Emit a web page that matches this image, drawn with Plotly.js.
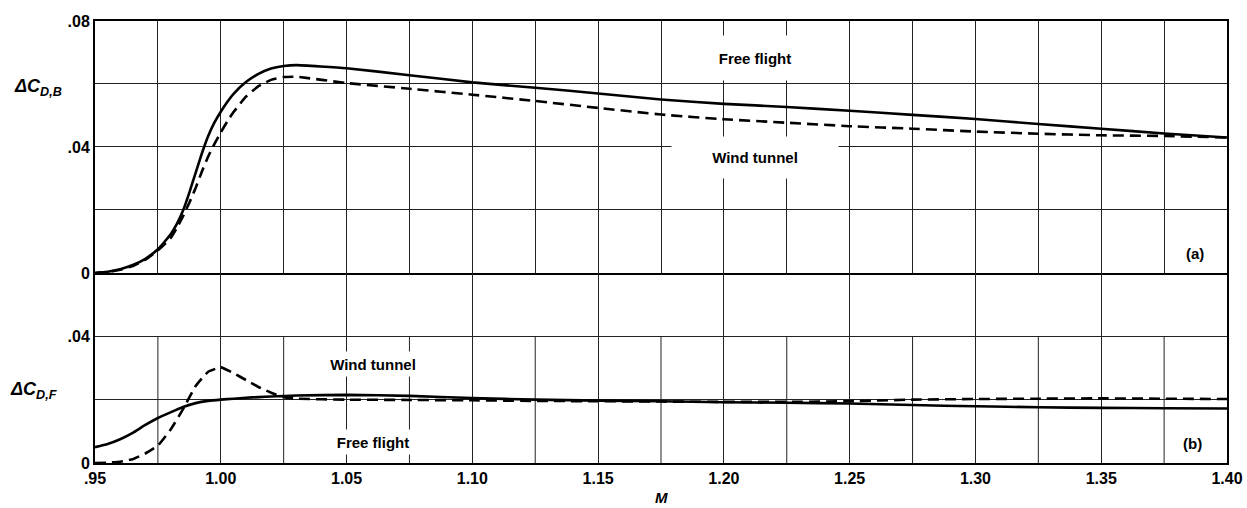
<!DOCTYPE html>
<html>
<head>
<meta charset="utf-8">
<script src="https://cdn.plot.ly/plotly-3.0.1.min.js"></script>
<style>html,body{margin:0;padding:0;background:#fff;}#chart{width:1247px;height:508px;}</style>
</head>
<body>
<div id="chart"></div>
<script>
// ---- Panel (a): body drag increment ΔC_D,B ----
const machA = [0.95, 0.955, 0.96, 0.965, 0.97, 0.975, 0.98, 0.9825, 0.985, 0.9875, 0.99, 0.9925, 0.995, 0.9975, 1.0, 1.0025, 1.005, 1.01, 1.015, 1.02, 1.025, 1.03, 1.05, 1.075, 1.10, 1.125, 1.15, 1.175, 1.20, 1.225, 1.25, 1.275, 1.30, 1.325, 1.35, 1.375, 1.40];
const freeFlightB = [0, 0.0004, 0.0012, 0.0025, 0.0045, 0.0075, 0.0122, 0.0155, 0.0198, 0.0255, 0.0318, 0.0380, 0.0435, 0.0478, 0.0512, 0.0542, 0.0568, 0.0606, 0.0632, 0.0649, 0.0657, 0.0660, 0.0650, 0.0628, 0.0605, 0.0588, 0.0570, 0.0551, 0.0537, 0.0527, 0.0515, 0.0502, 0.0489, 0.0473, 0.0458, 0.0443, 0.0430];
const windTunnelB = [0, 0.0003, 0.0010, 0.0022, 0.0042, 0.0072, 0.0110, 0.0142, 0.0180, 0.0223, 0.0270, 0.0322, 0.0370, 0.0410, 0.0446, 0.0480, 0.0510, 0.0560, 0.0593, 0.0613, 0.0622, 0.0623, 0.0603, 0.0585, 0.0566, 0.0546, 0.0524, 0.0503, 0.0488, 0.0477, 0.0466, 0.0458, 0.0449, 0.0442, 0.0437, 0.0435, 0.0430];

// ---- Panel (b): fin drag increment ΔC_D,F ----
const machB = [0.95, 0.955, 0.96, 0.965, 0.97, 0.975, 0.98, 0.985, 0.99, 0.995, 1.0, 1.005, 1.01, 1.015, 1.02, 1.025, 1.03, 1.05, 1.075, 1.10, 1.125, 1.15, 1.175, 1.20, 1.225, 1.25, 1.275, 1.30, 1.325, 1.35, 1.375, 1.40];
const freeFlightF = [0.0050, 0.0060, 0.0075, 0.0095, 0.0120, 0.0142, 0.0160, 0.0177, 0.0189, 0.0196, 0.0200, 0.0203, 0.0206, 0.0208, 0.0210, 0.0211, 0.0213, 0.0215, 0.0212, 0.0205, 0.0200, 0.0197, 0.0195, 0.0192, 0.0190, 0.0188, 0.0183, 0.0179, 0.0176, 0.0174, 0.0173, 0.0172];
const windTunnelF = [0.0000, 0.0001, 0.0004, 0.0012, 0.0030, 0.0055, 0.0105, 0.0170, 0.0243, 0.0288, 0.0302, 0.0284, 0.0262, 0.0240, 0.0222, 0.0208, 0.0203, 0.0200, 0.0199, 0.0198, 0.0196, 0.0195, 0.0194, 0.0193, 0.0193, 0.0195, 0.0200, 0.0202, 0.0203, 0.0204, 0.0203, 0.0202];

// ---- Tick labels ----
const machTicks = [0.95, 1.00, 1.05, 1.10, 1.15, 1.20, 1.25, 1.30, 1.35, 1.40];
const machTickText = [".95", "1.00", "1.05", "1.10", "1.15", "1.20", "1.25", "1.30", "1.35", "1.40"];
const machGrid = [0.95, 0.975, 1.00, 1.025, 1.05, 1.075, 1.10, 1.125, 1.15, 1.175, 1.20, 1.225, 1.25, 1.275, 1.30, 1.325, 1.35, 1.375, 1.40];
const machHalfGrid = [0.975, 1.025, 1.075, 1.125, 1.175, 1.225, 1.275, 1.325, 1.375];
const yTicksA = [0, 0.04, 0.08];
const yTickTextA = ["0", ".04", ".08"];
const yTicksB = [0, 0.04];
const yTickTextB = ["0", ".04"];

const FONT = "Liberation Sans, Arial, sans-serif";
const GRID = "#222";
const lineStyle = {color: "#000", width: 2.6, shape: "spline", smoothing: 0.4};

const traces = [
  {x: machA, y: freeFlightB, xaxis: "x", yaxis: "y", mode: "lines", name: "Free flight", line: Object.assign({}, lineStyle)},
  {x: machA, y: windTunnelB, xaxis: "x", yaxis: "y", mode: "lines", name: "Wind tunnel", line: Object.assign({}, lineStyle, {dash: "11px,6px"})},
  {x: machB, y: freeFlightF, xaxis: "x2", yaxis: "y2", mode: "lines", name: "Free flight", line: Object.assign({}, lineStyle)},
  {x: machB, y: windTunnelF, xaxis: "x2", yaxis: "y2", mode: "lines", name: "Wind tunnel", line: Object.assign({}, lineStyle, {dash: "11px,6px"})}
];

const split = 0.43;
const tickFont = {family: FONT, size: 16, color: "#000", weight: "bold"};
const axisCommon = {showline: true, mirror: true, linecolor: "#000", linewidth: 2, showgrid: true, gridcolor: GRID, gridwidth: 1, zeroline: false, ticks: "", tickfont: tickFont};
const yMinor = {tick0: 0, dtick: 0.02, showgrid: true, gridcolor: GRID, gridwidth: 1, ticks: ""};

// intermediate vertical grid lines of panel (b), drawn only below .04
const shapes = machHalfGrid.map(v => ({
  type: "line", xref: "x2", yref: "y2", x0: v, x1: v, y0: 0, y1: 0.04, layer: "below",
  line: {color: GRID, width: 1}
}));

const annFont = {family: FONT, size: 15, color: "#000", weight: "bold"};
const annotations = [
  {xref: "x", yref: "y", x: 1.2123, y: 0.0681, text: "Free flight", showarrow: false, bgcolor: "#fff", width: 100, height: 42, font: annFont},
  {xref: "x", yref: "y", x: 1.2123, y: 0.0365, text: "Wind tunnel", showarrow: false, bgcolor: "#fff", width: 164, height: 39, font: annFont},
  {xref: "x", yref: "y", x: 1.3872, y: 0.0063, text: "(a)", showarrow: false, font: annFont},
  {xref: "x2", yref: "y2", x: 1.0605, y: 0.0314, text: "Wind tunnel", showarrow: false, bgcolor: "#fff", width: 100, height: 22, font: annFont},
  {xref: "x2", yref: "y2", x: 1.0605, y: 0.0065, text: "Free flight", showarrow: false, bgcolor: "#fff", width: 100, height: 22, font: annFont},
  {xref: "x2", yref: "y2", x: 1.3864, y: 0.0062, text: "(b)", showarrow: false, font: annFont},
  {xref: "paper", yref: "y", x: -0.05, y: 0.0590, xanchor: "center", text: "<i>ΔC<sub>D,B</sub></i>", showarrow: false, font: {family: FONT, size: 18, color: "#000", weight: "bold"}},
  {xref: "paper", yref: "y2", x: -0.054, y: 0.0229, xanchor: "center", text: "<i>ΔC<sub>D,F</sub></i>", showarrow: false, font: {family: FONT, size: 18, color: "#000", weight: "bold"}},
  {xref: "paper", yref: "paper", x: 0.5, y: -0.079, xanchor: "center", yanchor: "middle", text: "<i>M</i>", showarrow: false, font: {family: FONT, size: 15, color: "#000", weight: "bold"}}
];

const layout = {
  width: 1247, height: 508,
  margin: {l: 95, r: 20, t: 21, b: 45},
  paper_bgcolor: "#fff", plot_bgcolor: "#fff",
  showlegend: false,
  xaxis: Object.assign({}, axisCommon, {anchor: "y", range: [0.95, 1.40], tickvals: machGrid, showticklabels: false}),
  yaxis: Object.assign({}, axisCommon, {domain: [split, 1], anchor: "x", range: [0, 0.08], tickvals: yTicksA, ticktext: yTickTextA, minor: yMinor}),
  xaxis2: Object.assign({}, axisCommon, {anchor: "y2", mirror: false, range: [0.95, 1.40], tickvals: machTicks, ticktext: machTickText}),
  yaxis2: Object.assign({}, axisCommon, {domain: [0, split], anchor: "x2", range: [0, 0.06], tickvals: yTicksB, ticktext: yTickTextB, minor: yMinor}),
  shapes: shapes,
  annotations: annotations
};

Plotly.newPlot("chart", traces, layout, {displayModeBar: false, staticPlot: true});
</script>
</body>
</html>
